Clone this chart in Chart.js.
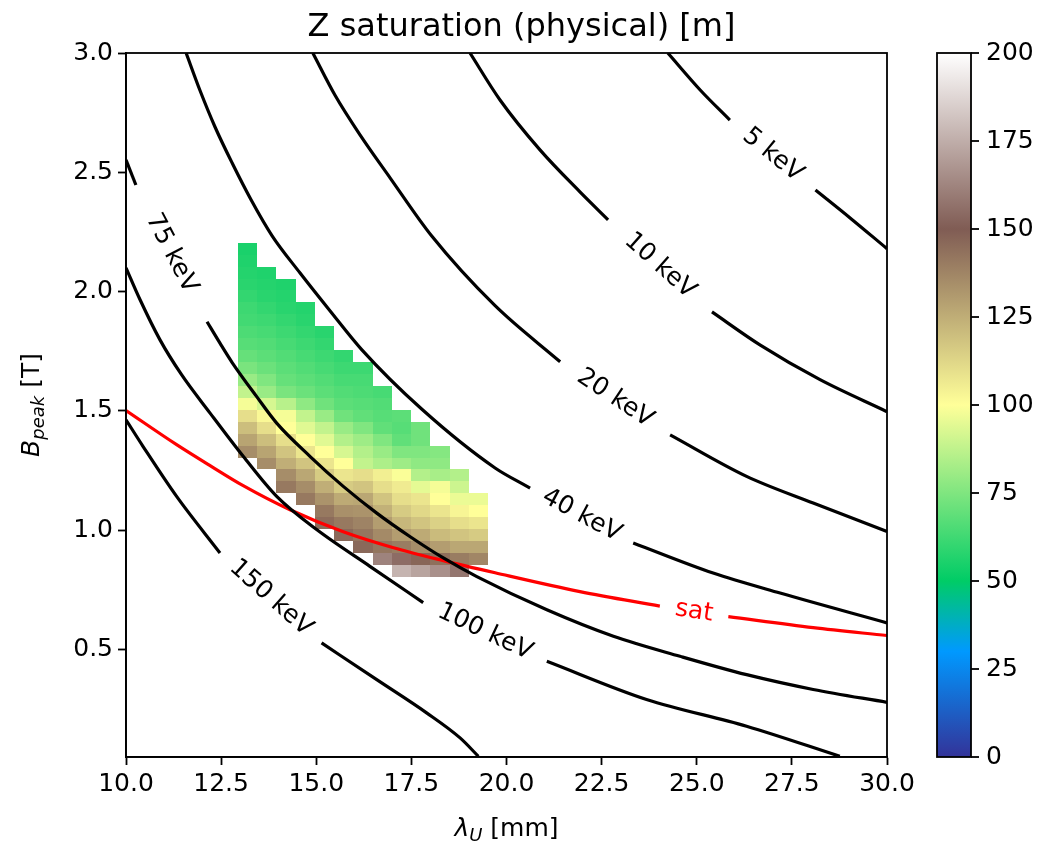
<!DOCTYPE html>
<html>
<head>
<meta charset="utf-8">
<script src="https://cdn.jsdelivr.net/npm/chart.js@4.4.1/dist/chart.umd.min.js"></script>
<style>
  html, body { margin: 0; padding: 0; background: #fff; }
</style>
</head>
<body>
<canvas id="plot" width="1043" height="845"></canvas>
<script>
// ---- data ----
const xTicks = [10, 12.5, 15, 17.5, 20, 22.5, 25, 27.5, 30];
const yTicks = [0.5, 1.0, 1.5, 2.0, 2.5, 3.0];
const cbTicks = [0, 25, 50, 75, 100, 125, 150, 175, 200];

// heatmap grid (cell centres)
const lambdaCenters = [13.193, 13.699, 14.205, 14.711, 15.217, 15.723, 16.229, 16.735, 17.241, 17.747, 18.253, 18.759, 19.265];
const bCenters = [2.18, 2.13, 2.08, 2.03, 1.98, 1.93, 1.88, 1.83, 1.78, 1.73, 1.68, 1.63, 1.58, 1.53,
                  1.48, 1.43, 1.38, 1.33, 1.28, 1.23, 1.18, 1.13, 1.08, 1.03, 0.98, 0.93, 0.88, 0.83];
const N = null;
// Z saturation [m], one row per bCenters entry, one column per lambdaCenters entry
const zSat = [
  [ 55,  N,  N,  N,  N,  N,  N,  N,  N,  N,  N,  N,  N],
  [ 56,  N,  N,  N,  N,  N,  N,  N,  N,  N,  N,  N,  N],
  [ 57, 56,  N,  N,  N,  N,  N,  N,  N,  N,  N,  N,  N],
  [ 58, 57, 56,  N,  N,  N,  N,  N,  N,  N,  N,  N,  N],
  [ 60, 58, 57,  N,  N,  N,  N,  N,  N,  N,  N,  N,  N],
  [ 62, 60, 58, 57,  N,  N,  N,  N,  N,  N,  N,  N,  N],
  [ 63, 62, 60, 58,  N,  N,  N,  N,  N,  N,  N,  N,  N],
  [ 65, 64, 62, 60, 58,  N,  N,  N,  N,  N,  N,  N,  N],
  [ 67, 66, 64, 62, 60,  N,  N,  N,  N,  N,  N,  N,  N],
  [ 70, 68, 66, 64, 62, 60,  N,  N,  N,  N,  N,  N,  N],
  [ 74, 71, 68, 66, 64, 62, 62,  N,  N,  N,  N,  N,  N],
  [ 80, 75, 70, 68, 66, 64, 64,  N,  N,  N,  N,  N,  N],
  [ 88, 80, 74, 71, 68, 66, 65, 64,  N,  N,  N,  N,  N],
  [ 98, 92, 86, 78, 72, 68, 67, 66,  N,  N,  N,  N,  N],
  [110,102, 98, 88, 80, 72, 69, 67, 68,  N,  N,  N,  N],
  [120,110,100, 94, 88, 80, 75, 69, 67, 72,  N,  N,  N],
  [128,120,110,100, 94, 85, 81, 75, 69, 72,  N,  N,  N],
  [135,128,118,108,100, 92, 85, 80, 75, 75, 76,  N,  N],
  [  N,135,125,118,108,100, 88, 84, 81, 78, 78,  N,  N],
  [  N,  N,135,127,116,108,110,105, 99, 85, 83, 85,  N],
  [  N,  N,141,135,125,116,118,110,106, 95, 98, 90,  N],
  [  N,  N,  N,141,133,126,127,118,110,108,100, 96, 96],
  [  N,  N,  N,  N,141,134,133,124,116,112,108,103,100],
  [  N,  N,  N,  N,145,141,138,130,122,118,114,110,108],
  [  N,  N,  N,  N,  N,146,142,136,130,126,121,118,116],
  [  N,  N,  N,  N,  N,  N,146,142,140,135,130,127,127],
  [  N,  N,  N,  N,  N,  N,  N,162,155,147,144,140,137],
  [  N,  N,  N,  N,  N,  N,  N,  N,177,172,166,158,  N]
];
const zMin = 0, zMax = 200;

// contour lines [lambda, B]; null marks the gap left for the inline label
const kev5 = [[24.24, 3.0], [25.09, 2.845], [25.87, 2.719], null, [28.12, 2.426], [29.03, 2.309], [30.0, 2.180]];
const kev10 = [[19.04, 3.0], [19.83, 2.803], [20.88, 2.594], [21.93, 2.418], [22.67, 2.301], null,
               [25.40, 1.915], [26.66, 1.777], [28.24, 1.631], [30.0, 1.497]];
const kev20 = [[14.91, 3.0], [15.49, 2.824], [16.15, 2.657], [16.94, 2.477], [18.03, 2.234],
               [19.70, 1.941], [21.41, 1.706], null, [24.30, 1.400], [26.31, 1.226], [28.06, 1.114], [30.0, 0.995]];
const kev40 = [[11.58, 3.0], [11.94, 2.845], [12.34, 2.690], [12.79, 2.539], [13.29, 2.384], [13.84, 2.234],
               [14.57, 2.079], [15.36, 1.920], [16.20, 1.756], [17.77, 1.508], [19.70, 1.261], [20.62, 1.177], null,
               [23.33, 0.947], [25.43, 0.821], [27.19, 0.737], [30.0, 0.612]];
const kev75 = [[10.0, 2.552], [10.26, 2.447], null, [12.13, 1.874], [12.47, 1.784], [12.79, 1.703], [13.43, 1.561],
               [13.96, 1.449], [14.84, 1.309], [15.71, 1.184], [16.59, 1.072], [17.46, 0.974], [18.34, 0.884],
               [19.22, 0.806], [21.06, 0.667], [22.81, 0.556], [24.56, 0.472], [26.31, 0.395], [28.06, 0.333], [30.0, 0.279]];
const kev100 = [[10.0, 2.100], [10.37, 1.966], [10.89, 1.799], [11.46, 1.652], [12.21, 1.491], [13.08, 1.310],
                [13.96, 1.142], [15.01, 1.003], [16.41, 0.849], [17.81, 0.697], null,
                [21.06, 0.451], [23.68, 0.291], [26.31, 0.179], [28.76, 0.053]];
const kev150 = [[10.0, 1.463], [10.45, 1.351], [11.33, 1.142], [12.47, 0.905], null,
                [15.14, 0.528], [16.59, 0.374], [17.90, 0.235], [18.78, 0.130], [19.26, 0.053]];
const satLine = [[10.0, 1.502], [11.33, 1.359], [12.21, 1.271], [13.08, 1.187], [14.31, 1.086], [15.71, 0.994],
                 [17.03, 0.927], [18.34, 0.873], [19.70, 0.822], [21.93, 0.743], [24.03, 0.682], null,
                 [25.83, 0.638], [28.06, 0.592], [30.0, 0.559]];

// matplotlib "terrain" colormap
const terrainStops = [
  [0.00, [51, 51, 153]],
  [0.15, [0, 153, 255]],
  [0.25, [0, 204, 102]],
  [0.50, [255, 255, 153]],
  [0.75, [128, 92, 84]],
  [1.00, [255, 255, 255]]
];

const FONT = "'DejaVu Sans', 'Liberation Sans', sans-serif";
const FS = 25;

function terrain(v) {
  const t = Math.min(1, Math.max(0, (v - zMin) / (zMax - zMin)));
  for (let i = 1; i < terrainStops.length; i++) {
    const [t0, c0] = terrainStops[i - 1];
    const [t1, c1] = terrainStops[i];
    if (t <= t1) {
      const f = (t - t0) / (t1 - t0);
      return 'rgb(' + c0.map((c, k) => Math.round(c + f * (c1[k] - c))).join(',') + ')';
    }
  }
  return 'rgb(255,255,255)';
}

function edges(centers) {
  const e = [];
  for (let i = 0; i <= centers.length; i++) {
    if (i === 0) e.push(centers[0] - (centers[1] - centers[0]) / 2);
    else if (i === centers.length) e.push(centers[i - 1] + (centers[i - 1] - centers[i - 2]) / 2);
    else e.push((centers[i - 1] + centers[i]) / 2);
  }
  return e;
}

function splitSegments(points) {
  const segs = [[]];
  points.forEach(p => {
    if (p === null) segs.push([]);
    else segs[segs.length - 1].push({ x: p[0], y: p[1] });
  });
  return segs;
}

const contours = [
  { label: '5 keV', pts: kev5, color: '#000000' },
  { label: '10 keV', pts: kev10, color: '#000000' },
  { label: '20 keV', pts: kev20, color: '#000000' },
  { label: '40 keV', pts: kev40, color: '#000000' },
  { label: '75 keV', pts: kev75, color: '#000000' },
  { label: '100 keV', pts: kev100, color: '#000000' },
  { label: '150 keV', pts: kev150, color: '#000000' },
  { label: 'sat', pts: satLine, color: '#ff0000' }
];

const datasets = [];
contours.forEach(c => {
  splitSegments(c.pts).forEach(seg => {
    datasets.push({
      data: seg,
      borderColor: c.color,
      borderWidth: 3.2,
      pointRadius: 0,
      fill: false,
      cubicInterpolationMode: 'monotone'
    });
  });
});

const heatmap = {
  id: 'heatmap',
  beforeDatasetsDraw(chart) {
    const { ctx, chartArea, scales: { x, y } } = chart;
    const xe = edges(lambdaCenters), ye = edges(bCenters);
    ctx.save();
    ctx.beginPath();
    ctx.rect(chartArea.left, chartArea.top, chartArea.width, chartArea.height);
    ctx.clip();
    zSat.forEach((row, r) => {
      row.forEach((v, c) => {
        if (v === null) return;
        const x0 = Math.round(x.getPixelForValue(xe[c]));
        const x1 = Math.round(x.getPixelForValue(xe[c + 1]));
        const y0 = Math.round(y.getPixelForValue(ye[r]));
        const y1 = Math.round(y.getPixelForValue(ye[r + 1]));
        ctx.fillStyle = terrain(v);
        ctx.fillRect(x0, Math.min(y0, y1), x1 - x0, Math.abs(y1 - y0));
      });
    });
    ctx.restore();
  },
  afterDatasetsDraw(chart) {
    const { ctx, chartArea, scales: { x, y } } = chart;
    // inline contour labels, centred in the gaps of each line
    contours.forEach(c => {
      const i = c.pts.indexOf(null);
      if (i < 0) return;
      const a = c.pts[i - 1], b = c.pts[i + 1];
      const ax = x.getPixelForValue(a[0]), ay = y.getPixelForValue(a[1]);
      const bx = x.getPixelForValue(b[0]), by = y.getPixelForValue(b[1]);
      ctx.save();
      ctx.translate((ax + bx) / 2, (ay + by) / 2);
      ctx.rotate(Math.atan2(by - ay, bx - ax));
      ctx.font = FS + 'px ' + FONT;
      ctx.fillStyle = c.color;
      ctx.textAlign = 'center';
      ctx.textBaseline = 'middle';
      ctx.fillText(c.label, 0, 0);
      ctx.restore();
    });
    // frame
    ctx.save();
    ctx.strokeStyle = '#000';
    ctx.lineWidth = 1.8;
    ctx.strokeRect(chartArea.left, chartArea.top, chartArea.width, chartArea.height);
    ctx.restore();
  },
  afterDraw(chart) {
    const { ctx, chartArea, scales: { cb } } = chart;
    // colorbar
    const left = chartArea.right + 50, right = chartArea.right + 84;
    const top = cb.getPixelForValue(zMax), bottom = cb.getPixelForValue(zMin);
    const grad = ctx.createLinearGradient(0, bottom, 0, top);
    terrainStops.forEach(([t, c]) => grad.addColorStop(t, 'rgb(' + c.join(',') + ')'));
    ctx.save();
    ctx.fillStyle = grad;
    ctx.fillRect(left, top, right - left, bottom - top);
    ctx.strokeStyle = '#000';
    ctx.lineWidth = 1.8;
    ctx.strokeRect(left, top, right - left, bottom - top);
    cbTicks.forEach(v => {
      const py = cb.getPixelForValue(v);
      ctx.beginPath();
      ctx.moveTo(right, py);
      ctx.lineTo(right + 8, py);
      ctx.stroke();
    });
    // axis titles with subscripts
    ctx.fillStyle = '#000';
    ctx.textBaseline = 'alphabetic';
    const it = 'italic ' + FS + 'px ' + FONT, sub = 'italic ' + Math.round(FS * 0.7) + 'px ' + FONT, rg = FS + 'px ' + FONT;
    const drawParts = (parts, cx, cy) => {
      let w = 0;
      parts.forEach(p => { ctx.font = p[1]; w += ctx.measureText(p[0]).width; });
      let px = cx - w / 2;
      parts.forEach(p => {
        ctx.font = p[1];
        ctx.fillText(p[0], px, cy + p[2]);
        px += ctx.measureText(p[0]).width;
      });
    };
    const midX = (chartArea.left + chartArea.right) / 2;
    drawParts([['λ', it, 0], ['U', sub, 5], [' [mm]', rg, 0]], midX, 836);
    ctx.save();
    ctx.translate(39, (chartArea.top + chartArea.bottom) / 2);
    ctx.rotate(-Math.PI / 2);
    drawParts([['B', it, 0], ['peak', sub, 5], [' [T]', rg, 0]], 0, 0);
    ctx.restore();
    ctx.restore();
  }
};

const tickFont = { family: FONT, size: FS };

new Chart(document.getElementById('plot'), {
  type: 'line',
  data: { datasets: datasets },
  options: {
    responsive: false,
    animation: false,
    devicePixelRatio: 1,
    layout: { padding: 0 },
    plugins: {
      legend: { display: false },
      tooltip: { enabled: false },
      title: {
        display: true,
        text: 'Z saturation (physical) [m]',
        color: '#000',
        font: { family: FONT, size: 32, weight: 'normal', lineHeight: 1.2 },
        padding: { top: 8, bottom: 6.6 }
      }
    },
    scales: {
      x: {
        type: 'linear',
        min: 10,
        max: 30,
        afterBuildTicks: s => { s.ticks = xTicks.map(v => ({ value: v })); },
        afterFit: s => { s.height = 88; s.paddingLeft = 0; s.paddingRight = 0; },
        ticks: { color: '#000', font: tickFont, padding: 4, maxRotation: 0, callback: v => v.toFixed(1) },
        grid: { drawOnChartArea: false, drawTicks: true, tickLength: 8, tickWidth: 1.8, tickColor: '#000' },
        border: { display: true, color: '#000', width: 1.8 }
      },
      y: {
        type: 'linear',
        min: 0.05,
        max: 3.0,
        afterBuildTicks: s => { s.ticks = yTicks.map(v => ({ value: v })); },
        afterFit: s => { s.width = 126; s.paddingTop = 0; s.paddingBottom = 0; },
        ticks: { color: '#000', font: tickFont, padding: 5, callback: v => v.toFixed(1) },
        grid: { drawOnChartArea: false, drawTicks: true, tickLength: 8, tickWidth: 1.8, tickColor: '#000' },
        border: { display: true, color: '#000', width: 1.8 }
      },
      cb: {
        type: 'linear',
        position: 'right',
        min: zMin,
        max: zMax,
        afterBuildTicks: s => { s.ticks = cbTicks.map(v => ({ value: v })); },
        afterFit: s => { s.width = 156; s.paddingTop = 0; s.paddingBottom = 0; },
        ticks: { color: '#000', font: tickFont, padding: 91, callback: v => String(v) },
        grid: { display: false },
        border: { display: false }
      }
    }
  },
  plugins: [heatmap]
});
</script>
</body>
</html>
